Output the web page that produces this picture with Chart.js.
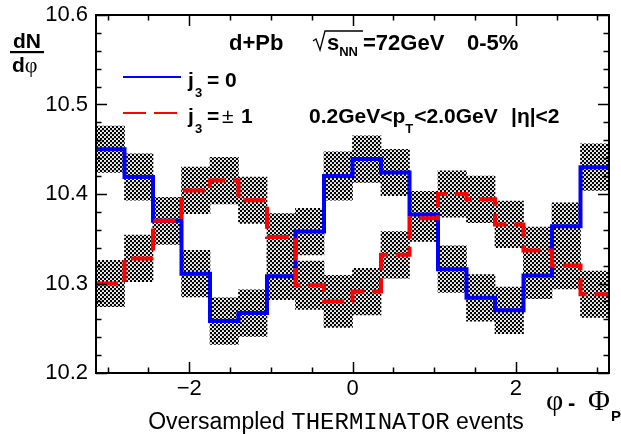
<!DOCTYPE html>
<html>
<head>
<meta charset="utf-8">
<script src="https://cdn.jsdelivr.net/npm/chart.js@4.4.0/dist/chart.umd.min.js"></script>
<style>
  html, body { margin: 0; padding: 0; background: #fff; }
  #chart { display: block; }
</style>
</head>
<body>
<canvas id="chart" width="621" height="434"></canvas>
<script>
// dN/dphi vs phi - Phi_P, d+Pb 72 GeV, 0-5%
const nBins = 18;
const phiMin = -Math.PI;
const phiMax = Math.PI;

// j3 = 0 (blue, solid)
const j3ZeroValues = [10.450, 10.419, 10.370, 10.311, 10.258, 10.267, 10.308, 10.358, 10.420,
                      10.439, 10.424, 10.377, 10.316, 10.284, 10.270, 10.309, 10.364, 10.430];
const j3ZeroErrors = [0.026, 0.026, 0.026, 0.026, 0.026, 0.026, 0.026, 0.026, 0.027,
                      0.026, 0.026, 0.026, 0.026, 0.026, 0.026, 0.026, 0.026, 0.026];

// j3 = +-1 (red, dashed)
const j3PmValues = [10.300, 10.328, 10.370, 10.404, 10.415, 10.393, 10.352, 10.298, 10.280,
                    10.291, 10.332, 10.373, 10.400, 10.394, 10.366, 10.337, 10.320, 10.288];
const j3PmErrors = [0.026, 0.026, 0.026, 0.026, 0.026, 0.026, 0.026, 0.027, 0.029,
                    0.026, 0.026, 0.026, 0.026, 0.026, 0.026, 0.026, 0.026, 0.026];

const xTickLabels = [-2, 0, 2];
const yTickLabels = [10.2, 10.3, 10.4, 10.5, 10.6];

const binWidth = (phiMax - phiMin) / nBins;

// histogram outline: left edge of each bin + closing point at the right edge
function stepPoints(values) {
  const pts = values.map((v, i) => ({ x: phiMin + i * binWidth, y: v }));
  pts.push({ x: phiMax, y: values[values.length - 1] });
  return pts;
}

// error boxes as floating bars centred on each bin
function errorBoxes(values, errs) {
  return values.map((v, i) => ({ x: phiMin + (i + 0.5) * binWidth, y: [v - errs[i], v + errs[i]] }));
}

function makeHatch() {
  const c = document.createElement('canvas');
  c.width = 4; c.height = 4;
  const g = c.getContext('2d');
  g.fillStyle = '#000';
  g.fillRect(0, 0, 4, 4);
  g.fillStyle = '#fff';
  g.beginPath(); g.arc(1, 1, 1.1, 0, Math.PI * 2); g.fill();
  g.beginPath(); g.arc(3, 3, 1.1, 0, Math.PI * 2); g.fill();
  return g.createPattern(c, 'repeat');
}

const hatch = makeHatch();
const SANS = '"Liberation Sans", Arial, sans-serif';
const SERIF = '"Liberation Serif", "DejaVu Serif", serif';

// frame with inward ticks on all four sides
const framePlugin = {
  id: 'frame',
  afterDatasetsDraw(chart) {
    const { ctx, chartArea: a, scales } = chart;
    const xs = scales.x, ys = scales.y;
    ctx.save();
    ctx.strokeStyle = '#000';
    ctx.lineWidth = 1.5;
    ctx.beginPath();
    for (let k = -6; k <= 6; k++) {
      const v = k * 0.5;
      if (v < phiMin || v > phiMax) continue;
      const px = Math.round(xs.getPixelForValue(v)) + 0.5;
      const len = xTickLabels.includes(v) ? 11 : 5.5;
      ctx.moveTo(px, a.bottom); ctx.lineTo(px, a.bottom - len);
      ctx.moveTo(px, a.top); ctx.lineTo(px, a.top + len);
    }
    for (let k = 0; k <= 20; k++) {
      const v = 10.2 + k * 0.02;
      const py = Math.round(ys.getPixelForValue(v)) + 0.5;
      const len = k % 5 === 0 ? 11 : 5.5;
      ctx.moveTo(a.left, py); ctx.lineTo(a.left + len, py);
      ctx.moveTo(a.right, py); ctx.lineTo(a.right - len, py);
    }
    ctx.stroke();
    ctx.lineWidth = 2;
    ctx.strokeRect(a.left, a.top, a.right - a.left, a.bottom - a.top);
    ctx.restore();
  }
};

function put(ctx, s, x, y, font, align) {
  ctx.font = font;
  ctx.textAlign = align || 'left';
  ctx.fillText(s, x, y);
  return ctx.measureText(s).width;
}

const textPlugin = {
  id: 'texts',
  afterDraw(chart) {
    const ctx = chart.ctx;
    ctx.save();
    ctx.fillStyle = '#000';
    ctx.textBaseline = 'alphabetic';
    const B22 = 'bold 22px ' + SANS;
    const B21 = 'bold 21px ' + SANS;
    const B13 = 'bold 13px ' + SANS;

    // y title dN / dphi
    put(ctx, 'dN', 27, 48, B21, 'center');
    ctx.fillRect(10, 51, 34, 2.2);
    let w = put(ctx, 'd', 12, 72, B21);
    put(ctx, '\u03c6', 12 + w, 72, '22px ' + SERIF);

    // header
    put(ctx, 'd+Pb', 229, 50, B22);
    ctx.lineWidth = 1.3;
    ctx.strokeStyle = '#000';
    ctx.beginPath();
    ctx.moveTo(313, 41); ctx.lineTo(316, 39); ctx.lineTo(320, 50); ctx.lineTo(325, 31); ctx.lineTo(363, 31);
    ctx.stroke();
    w = put(ctx, 's', 327, 50, B22);
    put(ctx, 'NN', 327 + w, 56, B13);
    put(ctx, '=72GeV', 363, 50, B22);
    put(ctx, '0-5%', 467, 50, B22);

    // kinematic cuts
    let x = 309;
    x += put(ctx, '0.2GeV<p', x, 123, B21);
    x += put(ctx, 'T', x, 133, B13);
    put(ctx, '<2.0GeV', x + 1, 123, B21);
    put(ctx, '|\u03b7|<2', 511, 123, B21);

    // legend
    ctx.lineWidth = 2;
    ctx.strokeStyle = '#0000ff';
    ctx.beginPath(); ctx.moveTo(123, 77); ctx.lineTo(181, 77); ctx.stroke();
    ctx.strokeStyle = '#ff0000';
    ctx.setLineDash([23, 8]);
    ctx.beginPath(); ctx.moveTo(123, 113); ctx.lineTo(178, 113); ctx.stroke();
    ctx.setLineDash([]);

    put(ctx, 'j', 188, 87, B21);
    put(ctx, '3', 195, 97, B13);
    put(ctx, '=', 207, 87, B21);
    put(ctx, '0', 225, 87, B21);
    put(ctx, 'j', 188, 123, B21);
    put(ctx, '3', 195, 133, B13);
    put(ctx, '=', 207, 123, B21);
    put(ctx, '\u00b1', 222, 123, '21px ' + SANS);
    put(ctx, '1', 241, 123, B21);

    // x title phi - Phi_P
    put(ctx, '\u03c6', 546, 410, '30px ' + SERIF);
    put(ctx, '-', 568, 410, 'bold 22px ' + SANS);
    put(ctx, '\u03a6', 588, 410, '30px ' + SERIF);
    put(ctx, 'P', 611, 421, 'bold 15px ' + SANS);

    // caption
    const f1 = '23px ' + SANS, f2 = '24px "Liberation Mono", "DejaVu Sans Mono", monospace';
    ctx.font = f1; const a1 = ctx.measureText('Oversampled ').width, a3 = ctx.measureText(' events').width;
    ctx.font = f2; const a2 = ctx.measureText('THERMINATOR').width;
    x = 336 - (a1 + a2 + a3) / 2;
    put(ctx, 'Oversampled ', x, 429, f1);
    put(ctx, 'THERMINATOR', x + a1, 429, f2);
    put(ctx, ' events', x + a1 + a2, 429, f1);
    ctx.restore();
  }
};

new Chart(document.getElementById('chart'), {
  type: 'bar',
  data: {
    datasets: [
      {
        type: 'bar', label: 'j3=0 err', data: errorBoxes(j3ZeroValues, j3ZeroErrors),
        backgroundColor: hatch, borderWidth: 0, grouped: false,
        barPercentage: 1, categoryPercentage: 1, order: 3
      },
      {
        type: 'bar', label: 'j3=+-1 err', data: errorBoxes(j3PmValues, j3PmErrors),
        backgroundColor: hatch, borderWidth: 0, grouped: false,
        barPercentage: 1, categoryPercentage: 1, order: 3
      },
      {
        type: 'line', label: 'j3 = 0', data: stepPoints(j3ZeroValues),
        stepped: true, borderColor: '#0000ff', borderWidth: 4, fill: false,
        pointRadius: 0, borderJoinStyle: 'miter', order: 2
      },
      {
        type: 'line', label: 'j3 = +-1', data: stepPoints(j3PmValues),
        stepped: true, borderColor: '#ff0000', borderWidth: 4, fill: false,
        borderDash: [22, 8], pointRadius: 0, borderJoinStyle: 'miter', order: 1
      }
    ]
  },
  options: {
    responsive: false,
    animation: false,
    devicePixelRatio: 1,
    layout: { padding: { top: 15, right: 12, left: 0, bottom: 0 } },
    plugins: { legend: { display: false }, tooltip: { enabled: false }, title: { display: false } },
    scales: {
      x: {
        type: 'linear', min: phiMin, max: phiMax, offset: false,
        grid: { display: false, drawTicks: false }, border: { display: false },
        afterBuildTicks: s => { s.ticks = xTickLabels.map(v => ({ value: v })); },
        afterFit: s => { s.height = 61; s.paddingLeft = 0; s.paddingRight = 0; },
        ticks: {
          padding: 3, color: '#000', autoSkip: false, maxRotation: 0,
          font: { family: SANS, size: 22 },
          callback: v => (v < 0 ? '\u2212' + Math.abs(v) : String(v))
        }
      },
      y: {
        type: 'linear', min: 10.2, max: 10.6,
        grid: { display: false, drawTicks: false }, border: { display: false },
        afterBuildTicks: s => { s.ticks = yTickLabels.map(v => ({ value: v })); },
        afterFit: s => { s.width = 96; s.paddingTop = 0; s.paddingBottom = 0; },
        ticks: {
          padding: 8, color: '#000', autoSkip: false,
          font: { family: SANS, size: 22 },
          callback: v => v.toFixed(1)
        }
      }
    }
  },
  plugins: [framePlugin, textPlugin]
});
</script>
</body>
</html>
